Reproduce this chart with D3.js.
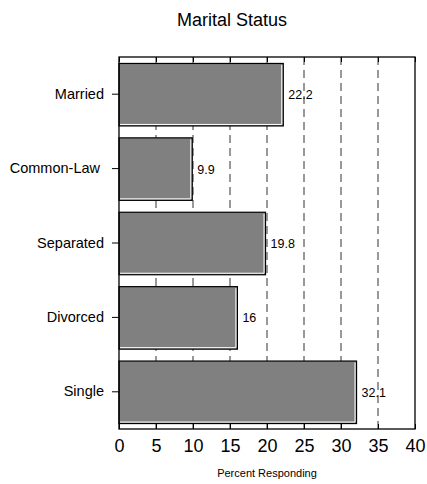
<!DOCTYPE html>
<html><head><meta charset="utf-8">
<script src="https://cdn.jsdelivr.net/npm/d3@7"></script>
<style>body{margin:0;background:#fff}svg{display:block}text{font-family:"Liberation Sans",Arial,sans-serif;fill:#000}</style>
</head><body><svg id="c" width="427" height="484"></svg>
<script>
const categories = ["Married","Common-Law","Separated","Divorced","Single"];
const values = [22.2, 9.9, 19.8, 16, 32.1];
const xTicks = [0,5,10,15,20,25,30,35,40];
const title = "Marital Status";
const xTitle = "Percent Responding";

const svg = d3.select("#c");
const m = {l:119, r:415, t:57, b:429};
const x = d3.scaleLinear().domain([0,40]).range([m.l, m.r]);
const y = d3.scaleBand().domain(categories).range([m.t, m.b]).paddingInner(0.16).paddingOuter(0.08);

// gridlines
svg.append("g").selectAll("line").data(xTicks.filter(d=>d>0&&d<40)).join("line")
  .attr("x1",d=>x(d)).attr("x2",d=>x(d)).attr("y1",m.t).attr("y2",m.b)
  .attr("stroke","#333").attr("stroke-width",1).attr("stroke-dasharray","8,5");

// bars
const bars = svg.append("g").selectAll("g").data(categories).join("g");
bars.append("rect")
  .attr("x",x(0)).attr("y",d=>y(d)+0.5)
  .attr("width",(d,i)=>x(values[i])-x(0)).attr("height",y.bandwidth())
  .attr("fill","#808080").attr("stroke","#000").attr("stroke-width",1.2);
bars.append("polyline")
  .attr("points",(d,i)=>{const xe=x(values[i])-1.5, yb=y(d)+y.bandwidth()-1; return `${x(0)+1},${yb} ${xe},${yb} ${xe},${y(d)+2}`;})
  .attr("fill","none").attr("stroke","#fff").attr("stroke-width",1);
bars.append("text")
  .attr("x",(d,i)=>x(values[i])+5).attr("y",d=>y(d)+y.bandwidth()/2+5)
  .attr("font-size",12.5).text((d,i)=>values[i]);

// frame
svg.append("rect").attr("x",m.l).attr("y",m.t).attr("width",m.r-m.l).attr("height",m.b-m.t)
  .attr("fill","none").attr("stroke","#000").attr("stroke-width",1.3);

// bottom axis
const xb = svg.append("g").attr("transform",`translate(0,${m.b})`)
  .call(d3.axisBottom(x).tickValues(xTicks).tickSizeInner(-5).tickSizeOuter(0).tickPadding(10));
xb.select(".domain").remove();
xb.selectAll("text").attr("font-size",18).attr("font-family","Liberation Sans,Arial,sans-serif");
// top axis ticks
const xt = svg.append("g").attr("transform",`translate(0,${m.t})`)
  .call(d3.axisTop(x).tickValues(xTicks).tickSizeInner(-5).tickSizeOuter(0).tickFormat(""));
xt.select(".domain").remove();
// left axis
const yl = svg.append("g").attr("transform",`translate(${m.l},0)`)
  .call(d3.axisLeft(y).tickSizeInner(7).tickSizeOuter(0).tickPadding(8));
yl.select(".domain").remove();
yl.selectAll("text").attr("font-size",14.5).attr("font-family","Liberation Sans,Arial,sans-serif")
  .attr("dx",d=>d==="Common-Law"?-4:0);

svg.append("text").attr("x",232).attr("y",26).attr("text-anchor","middle").attr("font-size",18).text(title);
svg.append("text").attr("x",(m.l+m.r)/2).attr("y",477).attr("text-anchor","middle").attr("font-size",11).text(xTitle);
</script></body></html>
